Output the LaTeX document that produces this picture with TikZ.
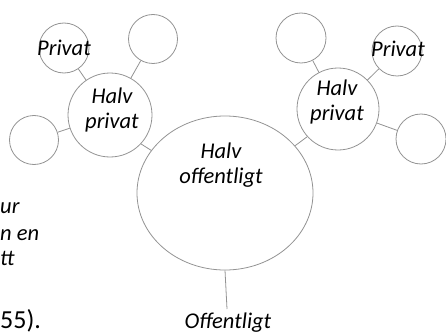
\documentclass[tikz,border=0pt]{standalone}
\usepackage{fontspec}
\setmainfont{Carlito}
\usetikzlibrary{shapes.geometric}

\begin{document}
\begin{tikzpicture}[x=1pt,y=-1pt]
  \tikzstyle{ring}=[circle,draw=gray!85,line width=0.8pt,inner sep=0pt]
  \tikzstyle{link}=[draw=gray!85,line width=0.8pt]
  \tikzstyle{lbl}=[font=\fontsize{22.5}{25}\selectfont\itshape,align=center,inner sep=0pt]
  \useasboundingbox (0,0) rectangle (446,334);
  % the big middle one
  \node [ellipse,draw=gray!85,line width=0.8pt,minimum width=176pt,minimum height=154pt] (hoff) at (225,193) {};
  \node [lbl] (hofftxt) at (221,165) {Halv\\offentligt};
  % left group
  \node [ring,minimum size=84pt] (lhp) at (110,115) {};
  \node [lbl] (lhptxt) at (112,110) {Halv\\privat};
  \node [ring,minimum size=50pt] (lp) at (64,48) {};
  \node [lbl] (lptxt) at (64,48) {Privat};
  \node [ring,minimum size=49pt] (lne) at (153,39) {};
  \node [ring,minimum size=49pt] (lsw) at (34,140) {};
  % right group
  \node [ring,minimum size=82pt] (rhp) at (338,109) {};
  \node [lbl] (rhptxt) at (337,102) {Halv\\privat};
  \node [ring,minimum size=50pt] (rnw) at (301,38) {};
  \node [ring,minimum size=50pt] (rp) at (397,51) {};
  \node [lbl] (rptxt) at (398,49) {Privat};
  \node [ring,minimum size=50pt] (rse) at (421,139) {};
  % public end
  \coordinate (oend) at (227,309);
  \node [lbl,anchor=base] (otxt) at (228,328) {Offentligt};
  % text at the left edge
  \node [lbl,anchor=base west] (frag1) at (0,213) {ur};
  \node [lbl,anchor=base west] (frag2) at (0,240) {n en};
  \node [lbl,anchor=base west] (frag3) at (0,265) {tt};
  \node [font=\fontsize{26}{30}\selectfont,inner sep=0pt,anchor=base west] (frag4) at (0,328) {55).};
  \draw [link] (lp) -- (lhp);
  \draw [link] (lne) -- (lhp);
  \draw [link] (lsw) -- (lhp);
  \draw [link] (lhp.-43) -- (hoff.150);
  \draw [link] (rnw) -- (rhp);
  \draw [link] (rp) -- (rhp);
  \draw [link] (rse) -- (rhp);
  \draw [link] (rhp.222) -- (hoff.34);
  \draw [link] (hoff.south) -- (oend);
\end{tikzpicture}
\end{document}
